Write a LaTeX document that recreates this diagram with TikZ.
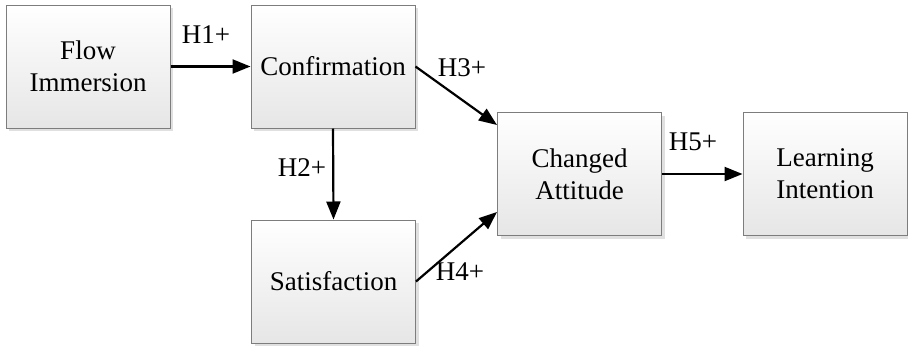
\documentclass[tikz,border=0pt]{standalone}
\usepackage{fontspec}
\setmainfont{Liberation Serif}
\usetikzlibrary{arrows.meta,shadows,calc}
\definecolor{boxline}{RGB}{125,125,125}
\definecolor{boxbottom}{RGB}{230,230,230}
\begin{document}
\begin{tikzpicture}[x=1pt,y=-1pt,
  box/.style={draw=boxline, line width=1pt, top color=white, bottom color=boxbottom,
    minimum width=164pt, minimum height=123pt, align=center, inner sep=0pt,
    font=\fontsize{27}{32}\selectfont,
    drop shadow={shadow xshift=3pt, shadow yshift=-3pt, fill=black!12, opacity=1}},
  arr/.style={line width=2.2pt, -{Triangle[length=18pt,width=14pt]}},
  lab/.style={font=\fontsize{27}{32}\selectfont, inner sep=0pt}]
\useasboundingbox (0,0) rectangle (908,346);
\node[box] (flow) at (88,66.5) {Flow\\Immersion};
\node[box] (conf) at (333,66.5) {Confirmation};
\node[box] (sat) at (333.5,281.5) {Satisfaction};
\node[box] (chg) at (579.5,174) {Changed\\Attitude};
\node[box] (lrn) at (825,174) {Learning\\Intention};
\draw[arr] (flow.east) -- (conf.west);
\draw[arr] (conf.south) -- (sat.north);
\draw[arr] (conf.east) -- ($(chg.north west)+(0,13)$);
\draw[arr] (sat.east) -- ($(chg.south west)+(0,-24)$);
\draw[arr] (chg.east) -- (lrn.west);
\node[lab] (h1) at (206,35) {H1+};
\node[lab] (h2) at (302,168) {H2+};
\node[lab] (h3) at (462,68) {H3+};
\node[lab] (h4) at (460,272) {H4+};
\node[lab] (h5) at (693,142) {H5+};
\end{tikzpicture}
\end{document}
